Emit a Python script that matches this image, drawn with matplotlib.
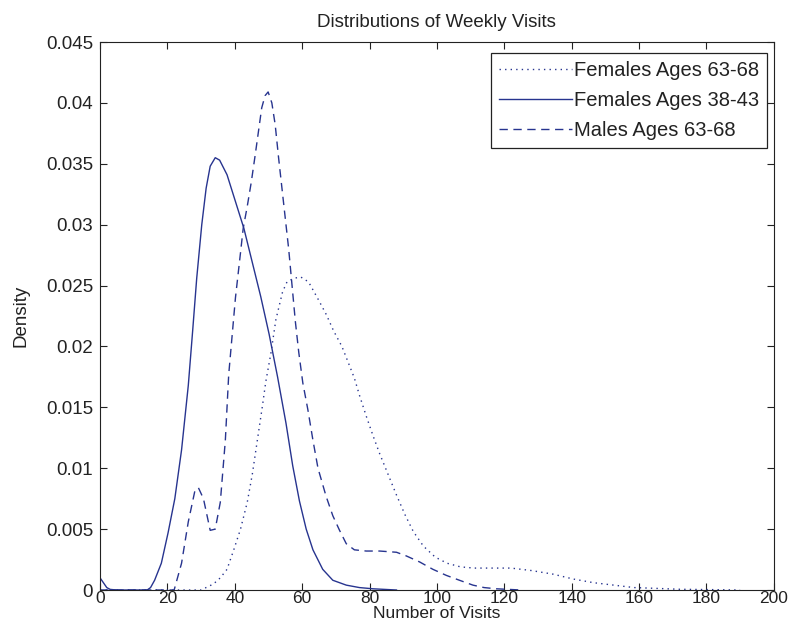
import numpy as np
import matplotlib.pyplot as plt

plt.rcParams['font.family'] = ['Liberation Sans', 'DejaVu Sans']

# Females Ages 63-68 (dotted)
f63_x = [0, 20, 30, 33.7, 35.7, 37.7, 39.7, 41.7, 43.7, 45.2, 46.7, 48.2, 49.2, 50.7,
         52.2, 54.2, 55.5, 57.5, 59.6, 61.9, 64.9, 67.2, 69.3, 71.8, 73.8, 75.5, 77,
         79, 81, 83, 85.5, 88, 90.5, 93, 96, 99.5, 103, 107, 111, 116, 122, 128,
         134.5, 140.5, 146.5, 152.5, 158.5, 164.5, 172, 182, 190]
f63_y = [0, 0, 0, 0.0005, 0.0010, 0.0017, 0.0033, 0.0050, 0.0072, 0.0095, 0.0123,
         0.0151, 0.0171, 0.0194, 0.0222, 0.0245, 0.0253, 0.0256, 0.0257, 0.0253,
         0.0238, 0.0226, 0.0213, 0.0200, 0.0186, 0.0174, 0.0160, 0.0143, 0.0127,
         0.0112, 0.0095, 0.0078, 0.0062, 0.0048, 0.0036, 0.0027, 0.0022, 0.0019,
         0.0018, 0.0018, 0.0018, 0.0016, 0.0013, 0.0009, 0.0006, 0.0004, 0.0002,
         0.00014, 0.00006, 0.00003, 0]

# Females Ages 38-43 (solid)
f38_x = [0, 1, 2, 3, 5, 10, 14, 15, 16.2, 18.2, 20.2, 22.2, 24.2, 26.2, 27.5, 28.7,
         30.2, 31.5, 32.7, 34.2, 35.5, 37.7, 40.2, 42.7, 45.2, 47.7, 50.2, 52.7,
         55.2, 57.2, 59.2, 61.2, 63.2, 66.1, 69.1, 73.1, 77, 81, 88]
f38_y = [0.0010, 0.0006, 0.0002, 0.00005, 0, 0, 0, 0.0002, 0.0008, 0.0022, 0.0047,
         0.0075, 0.0115, 0.0168, 0.0213, 0.0256, 0.0300, 0.0330, 0.0348, 0.0355,
         0.0353, 0.0341, 0.0319, 0.0297, 0.0269, 0.0241, 0.0210, 0.0175, 0.0137,
         0.0102, 0.0073, 0.0050, 0.0033, 0.0017, 0.0008, 0.0004, 0.0002, 0.0001, 0]

# Males Ages 63-68 (dashed)
m63_x = [0, 10, 20, 22, 24.2, 26.2, 28.2, 29.2, 30.7, 32.7, 34.2, 35.7, 37.2, 38.2,
         40.2, 41.7, 42.5, 43.7, 44.9, 46.1, 47.1, 48.0, 49.0, 49.9, 51.0, 52.0,
         53.0, 54.0, 55.0, 56.0, 57.0, 58.0, 59.0, 60.2, 61.7, 63.2, 64.7, 67.1,
         69.1, 71.1, 73.1, 75.5, 79, 83, 88, 90.9, 94.9, 98.8, 102.8, 106.7, 110.7,
         114, 117.6, 125]
m63_y = [0, 0, 0, 0, 0.0022, 0.0056, 0.0082, 0.0084, 0.0075, 0.0049, 0.0050, 0.0072,
         0.0123, 0.0177, 0.0240, 0.0277, 0.0297, 0.0315, 0.0335, 0.0358, 0.0378,
         0.0396, 0.0406, 0.0409, 0.0400, 0.0382, 0.0355, 0.0330, 0.0305, 0.0280,
         0.0250, 0.0220, 0.0195, 0.0170, 0.0148, 0.0123, 0.0100, 0.0077, 0.0061,
         0.0049, 0.0038, 0.0033, 0.0032, 0.0032, 0.0031, 0.0028, 0.0023, 0.0017,
         0.0012, 0.0008, 0.0004, 0.0002, 0.0001, 0]

xticks = [0, 20, 40, 60, 80, 100, 120, 140, 160, 180, 200]
yticks = [0, 0.005, 0.01, 0.015, 0.02, 0.025, 0.03, 0.035, 0.04, 0.045]
ytick_labels = ['0', '0.005', '0.01', '0.015', '0.02', '0.025', '0.03', '0.035',
                '0.04', '0.045']

color = '#27348f'
ink = '#222222'

fig = plt.figure(figsize=(7.92, 6.28), dpi=100)
ax = fig.add_axes([0.1263, 0.0605, 0.8507, 0.8726])

ax.plot(f63_x, f63_y, color=color, linewidth=1, linestyle=(0, (1, 3)),
        label='Females Ages 63-68')
ax.plot(f38_x, f38_y, color=color, linewidth=1, linestyle='-',
        label='Females Ages 38-43')
ax.plot(m63_x, m63_y, color=color, linewidth=1, linestyle=(0, (6, 4)),
        label='Males Ages 63-68')

ax.set_xlim(0, 200)
ax.set_ylim(0, 0.045)
ax.set_xticks(xticks)
ax.set_yticks(yticks)
ax.set_yticklabels(ytick_labels)
ax.tick_params(direction='in', top=True, right=True, length=5,
               color=ink, labelcolor=ink)
ax.tick_params(axis='y', pad=5, labelsize=13.5)
ax.tick_params(axis='x', pad=1, labelsize=12.5)
for s in ax.spines.values():
    s.set_color(ink)

ax.set_title('Distributions of Weekly Visits', fontsize=13.5, pad=11, color=ink)
ax.set_xlabel('Number of Visits', fontsize=12.5, labelpad=0, color=ink)
ax.set_ylabel('Density', fontsize=13.5, labelpad=12, color=ink)

leg = ax.legend(loc='upper right', bbox_to_anchor=(0.9896, 0.980),
                fontsize=14.5, handlelength=3.6, borderaxespad=0,
                fancybox=False, framealpha=1, edgecolor=ink,
                borderpad=0.4, labelspacing=0.55, handletextpad=0.1)
leg.get_frame().set_linewidth(0.9)
for t in leg.get_texts():
    t.set_color(ink)

fig.savefig('out.png', dpi=100)
